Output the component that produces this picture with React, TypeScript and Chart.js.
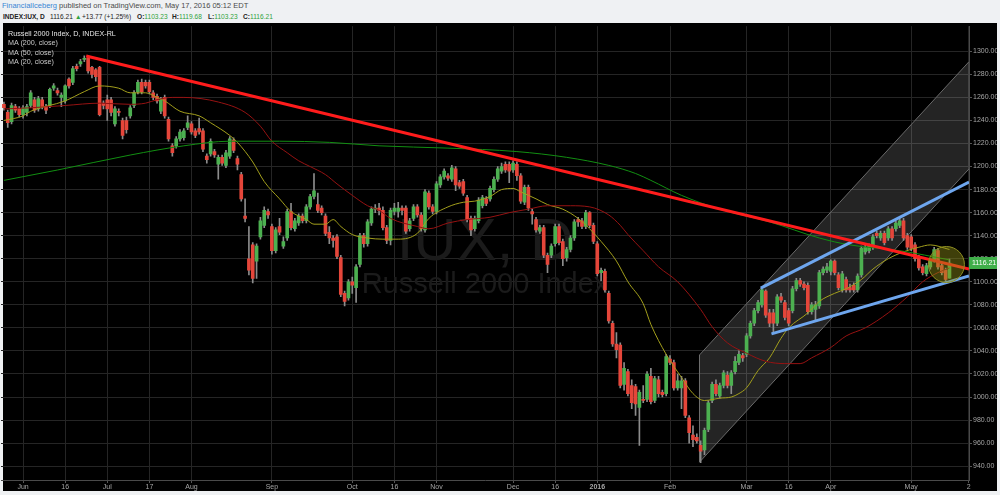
import React, { useEffect, useRef } from 'react';
import { Chart, registerables } from 'chart.js';
Chart.register(...registerables);

// Bar index 0 = 1 Jun 2015 (one bar per trading day), first visible bar is index -5
const FIRST_BAR = -5;

const opens = [
  1254,1247,1239,1252,1250,1245,1247,1253,1258,1250,1258,1252,1253,1268,1266,
  1260,1257,1276,1273,1287,1289,1293,1294,1286,1284,
  1286,1255,1258,1258,1237,1248,1240,1240,1244,1253,
  1265,1273,1273,1273,1264,1261,1248,1260,1241,1218,
  1218,1224,1225,1234,1237,1231,1233,1231,1209,1211,
  1213,1202,1208,1201,1209,1223,1207,1193,1157,1120,
  1132,1118,1139,1149,1161,1148,1127,1148,1131,1138,
  1161,1146,1151,1157,1153,1165,1174,1167,1164,1157,
  1143,1138,1139,1121,1090,1086,1100,1095,1115,1140,
  1133,1151,1163,1164,1162,1147,1136,1161,1161,1164,
  1164,1146,1155,1165,1158,1145,1177,1165,1161,1184,
  1191,1192,1189,1198,1186,1187,1173,1155,1146,1153,
  1166,1172,1172,1180,1189,1196,1202,1202,1197,1202,
  1192,1169,1182,1161,1154,1144,1147,1123,1123,1133,
  1148,1135,1121,1128,1138,1154,1153,1148,1160,1149,
  1133,1108,1109,1090,1064,1046,1045,1011,1022,1010,
  1009,991,998,998,1018,997,1015,1004,1003,1033,
  1030,1008,1008,1014,982,967,965,958,954,972,
  997,1011,1001,1010,1019,1010,1022,1030,1036,1037,
  1053,1064,1075,1080,1092,1073,1073,1064,1087,1082,
  1075,1075,1094,1101,1098,1097,1074,1076,1079,1108,
  1110,1109,1118,1106,1093,1102,1095,1097,1093,1106,
  1126,1127,1130,1142,1138,1142,1138,1146,1146,1149,
  1153,1140,1139,1132,1121,1113,1107,1113,1119,1127,
  1114,1110,1103.23,
];
const highs = [
  1256,1249,1255,1254,1252,1253,1254,1266,1260,1261,1260,1254,1268,1272,1268,
  1264,1271,1277,1287,1289,1293,1296,1295,1287,1285,
  1287,1257,1262,1260,1252,1250,1242,1243,1253,1266,
  1275,1276,1275,1275,1266,1263,1260,1262,1243,1220,
  1226,1232,1233,1244,1239,1233,1242,1233,1211,1224,
  1215,1210,1210,1214,1226,1225,1209,1195,1172,1148,
  1134,1133,1156,1165,1163,1150,1147,1155,1139,1163,
  1168,1155,1159,1159,1167,1176,1194,1177,1166,1159,
  1148,1140,1141,1123,1092,1102,1104,1115,1142,1142,
  1154,1165,1167,1168,1165,1149,1164,1168,1169,1166,
  1166,1155,1167,1167,1160,1180,1179,1167,1187,1193,
  1198,1194,1201,1200,1188,1189,1175,1157,1157,1173,
  1175,1174,1183,1191,1200,1203,1204,1204,1205,1204,
  1194,1184,1184,1163,1156,1149,1149,1125,1133,1150,
  1150,1137,1130,1140,1154,1156,1155,1162,1161,1151,
  1135,1112,1111,1092,1066,1056,1047,1030,1024,1015,
  1011,1006,1010,1022,1025,1018,1018,1006,1037,1036,
  1032,1020,1018,1016,984,975,968,962,973,997,
  1013,1015,1012,1023,1022,1023,1035,1040,1038,1055,
  1066,1077,1084,1094,1093,1076,1076,1089,1090,1084,
  1077,1096,1103,1103,1100,1099,1082,1083,1110,1113,
  1116,1119,1119,1108,1109,1104,1098,1099,1107,1131,
  1132,1133,1141,1144,1144,1144,1148,1148,1153,1155,
  1155,1142,1141,1134,1123,1115,1116,1120,1130,1129,
  1116,1112,1119.68,
];
const lows = [
  1249,1234,1237,1247,1243,1242,1244,1251,1247,1248,1250,1246,1251,1266,1262,
  1252,1255,1268,1271,1283,1287,1291,1281,1277,1274,
  1244,1250,1240,1244,1235,1244,1224,1229,1242,1251,
  1263,1263,1268,1263,1258,1255,1246,1242,1222,1209,
  1216,1222,1223,1232,1228,1225,1228,1213,1203,1209,
  1208,1189,1201,1199,1207,1212,1197,1170,1152,1106,
  1099,1103,1137,1147,1155,1124,1125,1141,1129,1136,
  1145,1144,1149,1151,1151,1163,1172,1160,1158,1140,
  1133,1130,1120,1087,1079,1084,1090,1082,1113,1130,
  1131,1149,1160,1158,1145,1133,1132,1158,1156,1158,
  1142,1144,1153,1156,1144,1143,1163,1159,1159,1182,
  1189,1188,1187,1179,1181,1175,1152,1140,1144,1151,
  1164,1166,1170,1178,1187,1194,1195,1186,1195,1188,
  1168,1167,1162,1150,1143,1142,1121,1108,1121,1131,
  1132,1114,1118,1126,1136,1148,1146,1146,1147,1133,
  1105,1101,1091,1064,1044,1034,1008,1006,1001,990,
  984,958,995,996,994,995,1000,1000,1001,1028,
  1006,1006,990,982,960,957,960,943,950,970,
  995,1001,999,1008,1008,1003,1020,1028,1031,1035,
  1051,1062,1073,1078,1069,1061,1055,1062,1082,1067,
  1062,1073,1092,1096,1093,1072,1072,1066,1077,1106,
  1108,1106,1106,1093,1091,1091,1091,1091,1091,1104,
  1124,1125,1128,1138,1136,1132,1136,1136,1144,1147,
  1136,1128,1127,1118,1110,1106,1105,1111,1117,1111,
  1106,1100,1103.23,
];
const closes = [
  1251,1238,1253,1249,1245,1251,1252,1264,1249,1259,1252,1249,1267,1270,1264,
  1262,1270,1270,1285,1285,1291,1294,1283,1280,1278,
  1245,1253,1250,1247,1250,1247,1227,1232,1251,1264,
  1273,1265,1270,1265,1260,1257,1258,1244,1224,1212,
  1224,1230,1231,1238,1230,1227,1230,1215,1206,1222,
  1210,1208,1203,1212,1224,1214,1202,1172,1155,1110,
  1103,1131,1153,1162,1158,1127,1145,1143,1135,1161,
  1147,1153,1157,1153,1165,1174,1179,1162,1160,1142,
  1138,1136,1122,1089,1083,1100,1097,1113,1140,1133,
  1152,1163,1164,1162,1147,1136,1162,1164,1164,1162,
  1144,1153,1165,1158,1146,1178,1165,1161,1185,1191,
  1196,1190,1199,1184,1183,1177,1154,1145,1155,1171,
  1173,1168,1181,1189,1198,1200,1197,1196,1203,1192,
  1170,1182,1164,1159,1145,1147,1123,1115,1131,1148,
  1134,1120,1128,1138,1152,1152,1148,1160,1149,1135,
  1107,1110,1093,1066,1046,1041,1010,1025,1003,995,
  994,1004,997,1020,996,1016,1003,1002,1035,1030,
  1008,1014,1014,984,969,963,962,953,971,995,
  1011,1003,1010,1021,1010,1021,1031,1037,1034,1053,
  1064,1075,1082,1093,1071,1064,1064,1087,1084,1069,
  1064,1094,1101,1098,1095,1074,1080,1080,1108,1111,
  1113,1118,1108,1095,1107,1093,1093,1093,1105,1129,
  1130,1131,1139,1140,1142,1134,1146,1138,1151,1153,
  1138,1130,1129,1120,1112,1108,1114,1118,1128,1113,
  1108,1102,1116.21,
];

// Moving averages (bar index, value)
const ma20Idx = [-5,0,2,11,16,20,25,28,32,35,37,41,46,49,54,56,60,63,67,70,74,76,79,81,83,86,90,94,98,103,106,111,115,118,122,125,128,130,134,137,141,145,148,151,155,158,162,164,168,172,175,178,182,185,187,189,192,195,198,200,205,208,212,215,219,222,226,230,234,237,242];
const ma20Val = [1240,1244,1248,1257,1265,1270,1268,1264,1264,1260,1257,1248,1244,1238,1227,1221,1204,1187,1172,1161,1154,1150,1150,1154,1148,1141,1138,1137,1137,1142,1155,1165,1169,1170,1174,1180,1181,1178,1172,1167,1163,1155,1146,1135,1118,1100,1081,1063,1037,1017,1003,997,999,1000,1003,1008,1023,1034,1051,1060,1073,1083,1090,1094,1102,1111,1120,1126,1130,1132,1128];
const ma50Idx = [-5,2,11,20,28,32,35,39,42,51,58,62,65,69,72,75,79,82,86,90,93,96,103,106,111,116,122,127,132,137,143,148,153,156,158,162,166,171,177,180,184,189,194,199,203,206,211,215,220,226,231,235,239,242];
const ma50Val = [1250,1251,1253,1255,1254,1255,1258,1260,1260,1256,1247,1235,1222,1212,1205,1200,1193,1185,1175,1166,1162,1155,1148,1146,1151,1154,1156,1160,1163,1166,1166,1165,1158,1149,1141,1127,1113,1100,1076,1061,1047,1038,1031,1029,1029,1034,1043,1053,1060,1073,1087,1100,1108,1112];
const ma200Idx = [-5,9,28,42,54,67,80,93,111,129,142,153,160,164,172,182,195,208,216,229,242];
const ma200Val = [1188,1197,1210,1218,1222,1222,1221,1218,1216,1213,1208,1201,1194,1188,1175,1163,1152,1138,1132,1127,1119];

// Drawings (bar index, price)
const redTrendX = [16.5, 247.1];
const redTrendY = [1296, 1111];
const channelX = [176.7, 247.1];
const channelUpperY = [1036.5, 1291];
const channelLowerY = [943.5, 1198];
const blueUpperX = [192.7, 247.1];
const blueUpperY = [1094.5, 1186.5];
const blueLowerX = [195.5, 247.1];
const blueLowerY = [1054.8, 1105];
const circleX = 241.2;
const circleY = 1115;
const circleRadiusPx = 18;

const lastPrice = 1116.21;

const xTickIndex = [0, 11, 22, 33, 44, 65, 86, 97, 108, 128, 139, 150, 169, 189, 200, 211, 232, 247];
const xTickText = ['Jun', '16', 'Jul', '17', 'Aug', 'Sep', 'Oct', '16', 'Nov', 'Dec', '16', '2016', 'Feb', 'Mar', '16', 'Apr', 'May', '2'];
const yTickValues = [940, 960, 980, 1000, 1020, 1040, 1060, 1080, 1100, 1120, 1140, 1160, 1180, 1200, 1220, 1240, 1260, 1280, 1300];

const UP = '#4cb050';
const DOWN = '#e5463a';
const FONT = '"Liberation Sans", Arial, sans-serif';

export default function App() {
  const ref = useRef<HTMLCanvasElement>(null);

  useEffect(() => {
    const canvas = ref.current;
    if (!canvas) return;
    const pts = (xs: number[], ys: number[]) => xs.map((x, k) => ({ x, y: ys[k] }));
    const bodies = opens.map((o, k) => ({ x: FIRST_BAR + k, y: [o, closes[k]] }));
    const wicks = highs.map((h, k) => ({ x: FIRST_BAR + k, y: [lows[k], h] }));
    const bodyColors = opens.map((o, k) => (closes[k] >= o ? UP : DOWN));

    const bg = {
      id: 'bg',
      beforeDraw(c: any) {
        const ctx = c.ctx;
        ctx.save();
        ctx.fillStyle = '#000';
        ctx.fillRect(2, 2, c.width - 2, c.height - 2);
        ctx.restore();
      },
    };
    const watermark = {
      id: 'watermark',
      beforeDatasetsDraw(c: any) {
        const ctx = c.ctx;
        const a = c.chartArea;
        const cx = (a.left + a.right) / 2;
        ctx.save();
        ctx.fillStyle = '#1b1b1b';
        ctx.textAlign = 'center';
        ctx.textBaseline = 'alphabetic';
        ctx.font = `60px ${FONT}`;
        ctx.fillText('IUX, D', cx, 239);
        ctx.font = `29px ${FONT}`;
        ctx.fillText('Russell 2000 Index', cx, 272);
        ctx.restore();
      },
    };
    const circle = {
      id: 'circle',
      afterDatasetsDraw(c: any) {
        const ctx = c.ctx;
        const a = c.chartArea;
        const px = c.scales.x.getPixelForValue(circleX);
        const py = c.scales.y.getPixelForValue(circleY);
        ctx.save();
        ctx.beginPath();
        ctx.rect(a.left, a.top, a.right - a.left, a.bottom - a.top);
        ctx.clip();
        ctx.beginPath();
        ctx.arc(px, py, circleRadiusPx, 0, Math.PI * 2);
        ctx.fillStyle = 'rgba(150,150,25,0.42)';
        ctx.fill();
        ctx.lineWidth = 1;
        ctx.strokeStyle = '#8f8f22';
        ctx.stroke();
        ctx.restore();
      },
    };
    const priceTag = {
      id: 'priceTag',
      afterDraw(c: any) {
        const ctx = c.ctx;
        const y = c.scales.y.getPixelForValue(lastPrice);
        const x0 = c.chartArea.right;
        ctx.save();
        ctx.fillStyle = '#3fae49';
        ctx.fillRect(x0, Math.round(y) - 6, c.width - x0, 12);
        ctx.fillStyle = '#fff';
        ctx.font = `7px ${FONT}`;
        ctx.textBaseline = 'middle';
        ctx.textAlign = 'left';
        ctx.fillText(lastPrice.toFixed(2), x0 + 3, Math.round(y));
        ctx.restore();
      },
    };

    const lineBase = { type: 'line' as const, pointRadius: 0, pointHoverRadius: 0, pointBorderWidth: 0, pointHitRadius: 0, fill: false, tension: 0 };

    const chart = new Chart(canvas, {
      type: 'bar',
      data: {
        datasets: [
          { ...lineBase, data: pts(channelX, channelLowerY), borderColor: '#6a6a6a', borderWidth: 1, order: 30 },
          { ...lineBase, data: pts(channelX, channelUpperY), borderColor: '#6a6a6a', borderWidth: 1, order: 30, fill: '-1', backgroundColor: 'rgba(255,255,255,0.14)' },
          { ...lineBase, data: [{ x: channelX[0], y: channelLowerY[0] }, { x: channelX[0], y: channelUpperY[0] }], borderColor: '#6a6a6a', borderWidth: 1, order: 30 },
          { type: 'bar', data: wicks as any, backgroundColor: '#8c8c8c', barThickness: 1, grouped: false, order: 20 },
          { type: 'bar', data: bodies as any, backgroundColor: bodyColors, barThickness: 3, minBarLength: 1, grouped: false, order: 19 },
          { ...lineBase, data: pts(ma200Idx, ma200Val), borderColor: '#128f12', borderWidth: 1, cubicInterpolationMode: 'monotone', order: 10 },
          { ...lineBase, data: pts(ma50Idx, ma50Val), borderColor: '#961212', borderWidth: 1, cubicInterpolationMode: 'monotone', order: 10 },
          { ...lineBase, data: pts(ma20Idx, ma20Val), borderColor: '#a39f1c', borderWidth: 1, cubicInterpolationMode: 'monotone', order: 10 },
          { ...lineBase, data: pts(redTrendX, redTrendY), borderColor: '#ff1c1c', borderWidth: 3, order: 5 },
          { ...lineBase, data: pts(blueUpperX, blueUpperY), borderColor: '#6ea6ee', borderWidth: 3, order: 5 },
          { ...lineBase, data: pts(blueLowerX, blueLowerY), borderColor: '#6ea6ee', borderWidth: 3, order: 5 },
        ] as any,
      },
      options: {
        animation: false,
        responsive: false,
        maintainAspectRatio: false,
        events: [],
        layout: { padding: 0 },
        plugins: { legend: { display: false }, tooltip: { enabled: false } },
        scales: {
          x: {
            type: 'linear',
            min: -5.76,
            max: 247.1,
            offset: false,
            bounds: 'data',
            grid: { color: '#252525', offset: false, tickLength: 3, tickColor: '#555' },
            border: { color: '#4a4a4a' },
            afterBuildTicks: (s: any) => {
              s.ticks = xTickIndex.map((v) => ({ value: v }));
            },
            afterFit: (s: any) => {
              s.height = 11;
            },
            ticks: {
              autoSkip: false,
              maxRotation: 0,
              padding: 0,
              color: '#a5a5a5',
              font: (ctx: any) => ({ size: 7, family: FONT, weight: ctx.tick && ctx.tick.label === '2016' ? 'bold' : 'normal' }),
              callback: (v: any) => {
                const k = xTickIndex.indexOf(Number(v));
                return k >= 0 ? xTickText[k] : '';
              },
            },
          },
          y: {
            type: 'linear',
            position: 'right',
            min: 928,
            max: 1321.8,
            bounds: 'data',
            grid: { color: '#252525', tickLength: 3, tickColor: '#555' },
            border: { color: '#4a4a4a' },
            afterBuildTicks: (s: any) => {
              s.ticks = yTickValues.map((v) => ({ value: v }));
            },
            afterFit: (s: any) => {
              s.width = 28;
            },
            ticks: {
              padding: 1,
              color: '#a5a5a5',
              font: { size: 7, family: FONT },
              callback: (v: any) => Number(v).toFixed(2),
            },
          },
        },
      } as any,
      plugins: [bg, watermark, circle, priceTag],
    });
    return () => chart.destroy();
  }, []);

  const green = { color: '#2fa33c' };
  const seg = (left: number) => ({ position: 'absolute' as const, left, top: 0 });
  const legendLine = { position: 'absolute' as const, left: 8, fontSize: 7.2, lineHeight: '9px', color: '#c8c8c8', whiteSpace: 'nowrap' as const };

  return (
    <div style={{ position: 'fixed', left: 0, top: 0, width: 1000, height: 495, background: '#eff1f3', fontFamily: FONT, overflow: 'hidden' }}>
      <div style={{ position: 'absolute', left: 2, top: 1, fontSize: 7.5, lineHeight: '10px', color: '#4a4a4a', whiteSpace: 'nowrap' }}>
        <span style={{ color: '#3a86d4' }}>FinancialIceberg</span> published on TradingView.com, May 17, 2016 05:12 EDT
      </div>
      <div style={{ position: 'absolute', left: 0, top: 11.5, height: 9, width: 300, fontSize: 6.6, lineHeight: '9px', color: '#222', whiteSpace: 'nowrap' }}>
        <span style={{ ...seg(3), fontWeight: 'bold' }}>INDEX:IUX, D</span>
        <span style={seg(50)}>1116.21</span>
        <span style={{ ...seg(75), ...green }}>▲</span>
        <span style={seg(82)}>+13.77 (+1.25%)</span>
        <span style={seg(137)}><b>O:</b><span style={green}>1103.23</span></span>
        <span style={seg(172)}><b>H:</b><span style={green}>1119.68</span></span>
        <span style={seg(208)}><b>L:</b><span style={green}>1103.23</span></span>
        <span style={seg(243)}><b>C:</b><span style={green}>1116.21</span></span>
      </div>
      <canvas ref={ref} width={996} height={470} style={{ position: 'absolute', left: 1, top: 21, width: 996, height: 470 }} />
      <div style={{ ...legendLine, top: 28.5, color: '#e4e4e4' }}>Russell 2000 Index, D, INDEX-RL</div>
      <div style={{ ...legendLine, top: 38 }}>MA (200, close)</div>
      <div style={{ ...legendLine, top: 47.5 }}>MA (50, close)</div>
      <div style={{ ...legendLine, top: 56.5 }}>MA (20, close)</div>
    </div>
  );
}
